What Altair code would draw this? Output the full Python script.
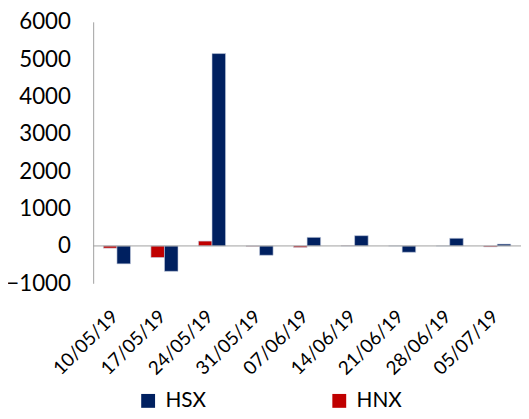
import altair as alt
import pandas as pd

dates = ["10/05/19", "17/05/19", "24/05/19", "31/05/19", "07/06/19",
         "14/06/19", "21/06/19", "28/06/19", "05/07/19"]
hsx = [-480, -680, 5150, -250, 230, 275, -170, 205, 50]
hnx = [-60, -310, 130, -10, -40, 5, 0, 0, -25]
yticks = [-1000, 0, 1000, 2000, 3000, 4000, 5000, 6000]

rows = []
for d, a, b in zip(dates, hsx, hnx):
    rows.append({"date": d, "series": "HNX", "value": b})
    rows.append({"date": d, "series": "HSX", "value": a})
df = pd.DataFrame(rows)

FONT = "Lato"
NAVY = "#002060"
RED = "#C00000"

yscale = alt.Scale(domain=[-1000, 6000], nice=False)
yaxis = alt.Axis(values=yticks, format="d", labelOverlap=False, labelFlush=False,
                 grid=False, ticks=False, domainColor="#a0a0a0",
                 labelFont=FONT, labelFontSize=22.5, labelColor="#000000",
                 labelPadding=23)

bars = alt.Chart(df).mark_bar(stroke="#c8d0e0", strokeWidth=0.6).encode(
    x=alt.X("date:N", sort=dates, title=None,
            scale=alt.Scale(paddingInner=0.43, paddingOuter=0.215),
            axis=alt.Axis(labelAngle=-45, labelAlign="right", labelBaseline="middle",
                          labelFont=FONT, labelFontSize=19, labelColor="#000000",
                          domain=False, ticks=False, labelPadding=30, labelOffset=-2,
                          labelOverlap=False)),
    xOffset=alt.XOffset("series:N", sort=["HNX", "HSX"]),
    y=alt.Y("value:Q", title=None, scale=yscale, axis=yaxis),
    color=alt.Color("series:N",
                    scale=alt.Scale(domain=["HSX", "HNX"], range=[NAVY, RED]),
                    legend=alt.Legend(title=None, orient="none", direction="horizontal",
                                      legendX=45, legendY=372,
                                      symbolType="square", symbolSize=196,
                                      symbolStrokeWidth=0, columnPadding=124,
                                      labelFont=FONT, labelFontSize=21,
                                      labelColor="#000000", labelOffset=7)),
)

zero = alt.Chart(pd.DataFrame({"value": [0]})).mark_rule(color="#a0a0a0", strokeWidth=1).encode(
    y=alt.Y("value:Q", title=None, scale=yscale, axis=yaxis)
)

chart = alt.layer(bars, zero).properties(
    width=432, height=264,
    autosize=alt.AutoSizeParams(type="none"),
    padding={"left": 86, "top": 12, "right": 0, "bottom": 127},
).configure_view(stroke=None).configure_axis(labelOverlap=False)

chart.save("out.html", embed_options={"renderer": "svg", "actions": False})
